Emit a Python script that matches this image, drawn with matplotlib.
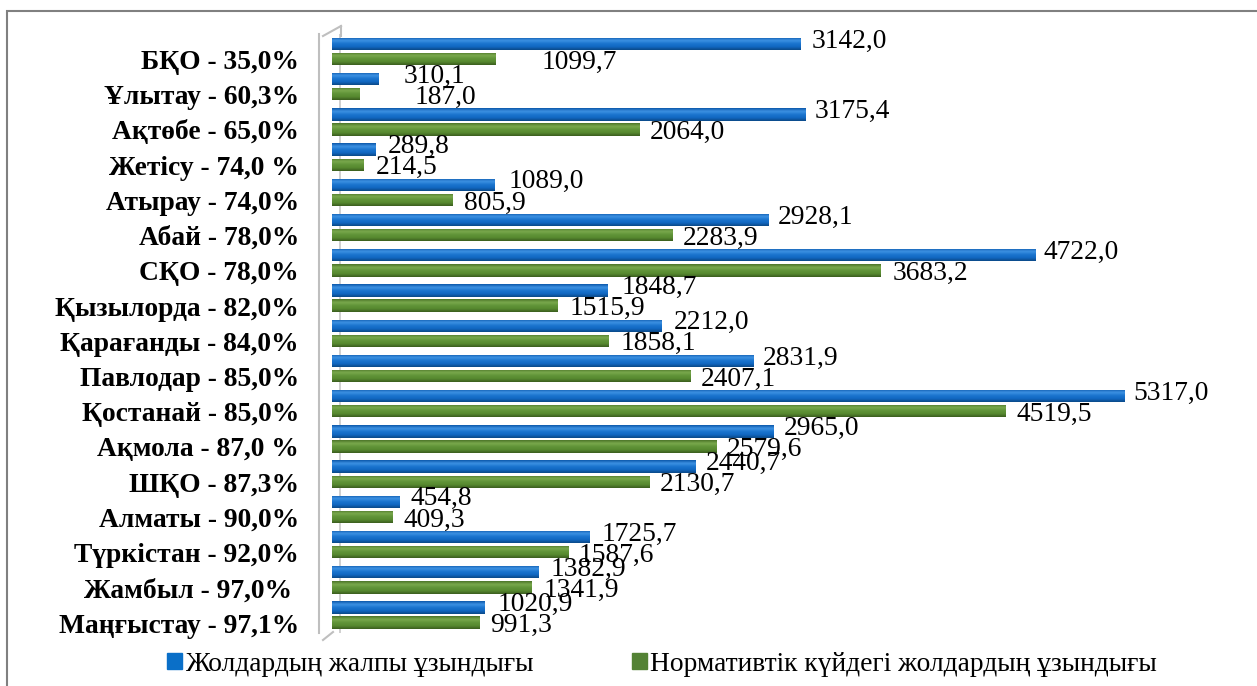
import matplotlib.pyplot as plt
import numpy as np
from matplotlib.colors import LinearSegmentedColormap
from matplotlib.patches import Patch, Rectangle
from matplotlib.lines import Line2D
from matplotlib.transforms import blended_transform_factory, ScaledTranslation

plt.rcParams['font.family'] = ['Liberation Serif', 'DejaVu Serif']

# Өңірлер (нормативтік күйдегі жолдардың үлесі)
regions = ['БҚО - 35,0%', 'Ұлытау - 60,3%', 'Ақтөбе - 65,0%', 'Жетісу - 74,0 %',
           'Атырау - 74,0%', 'Абай - 78,0%', 'СҚО - 78,0%', 'Қызылорда - 82,0%',
           'Қарағанды - 84,0%', 'Павлодар - 85,0%', 'Қостанай - 85,0%',
           'Ақмола - 87,0 %', 'ШҚО - 87,3%', 'Алматы - 90,0%', 'Түркістан - 92,0%',
           'Жамбыл - 97,0% ', 'Маңғыстау - 97,1%']

# Жолдардың жалпы ұзындығы, км
total_len = [3142.0, 310.1, 3175.4, 289.8, 1089.0, 2928.1, 4722.0, 1848.7, 2212.0,
             2831.9, 5317.0, 2965.0, 2440.7, 454.8, 1725.7, 1382.9, 1020.9]
# Нормативтік күйдегі жолдардың ұзындығы, км
norm_len = [1099.7, 187.0, 2064.0, 214.5, 805.9, 2283.9, 3683.2, 1515.9, 1858.1,
            2407.1, 4519.5, 2579.6, 2130.7, 409.3, 1587.6, 1341.9, 991.3]

series_names = ['Жолдардың жалпы ұзындығы', 'Нормативтік күйдегі жолдардың ұзындығы']

# горизонтальные сдвиги подписей (px)
dx_total = [12, 25, 10, 13, 14, 9, 8, 14, 12, 9, 9, 10, 10, 11, 12, 13, 13]
dx_norm = [46, 55, 10, 12, 12, 10, 12, 12, 12, 10, 11, 10, 10, 11, 10, 12, 10]

FS = 19.8

blue = '#1270CC'
green = '#5B8C32'
blue_cmap = LinearSegmentedColormap.from_list(
    'b', ['#0A56A8', '#3E93E4', '#1A74CE', '#1168C2', '#0A4886'])
green_cmap = LinearSegmentedColormap.from_list(
    'g', ['#4A7327', '#7BAA4E', '#609338', '#578A30', '#3A5C1D'])

fig = plt.figure(figsize=(12.57, 6.86), dpi=100)
ax = fig.add_axes([0.2641, 0.0778, 0.7112, 0.8728])

y = np.arange(len(regions))
h = 0.35
off = 0.215


def shaded_bars(ypos, vals, color, cmap):
    bars = ax.barh(ypos, vals, height=h, color=color, zorder=2)
    grad = np.linspace(0, 1, 64).reshape(-1, 1)
    for b in bars:
        x0, y0 = b.get_x(), b.get_y()
        im = ax.imshow(grad, extent=(x0, x0 + b.get_width(), y0, y0 + b.get_height()),
                       origin='lower', cmap=cmap, aspect='auto',
                       interpolation='bicubic', zorder=3)
        im.set_clip_path(b)
    return bars


shaded_bars(y - off, total_len, blue, blue_cmap)
shaded_bars(y + off, norm_len, green, green_cmap)

for i in range(len(regions)):
    ax.annotate(f'{total_len[i]:.1f}'.replace('.', ','), (total_len[i], y[i] - off),
                xytext=(dx_total[i], 3), textcoords='offset pixels',
                ha='left', va='center', fontsize=FS, zorder=5)
    ax.annotate(f'{norm_len[i]:.1f}'.replace('.', ','), (norm_len[i], y[i] + off),
                xytext=(dx_norm[i], -3), textcoords='offset pixels',
                ha='left', va='center', fontsize=FS, zorder=5)

ax.set_xlim(0, 6000)
ax.set_ylim(len(regions) - 0.5, -0.5)
ax.set_xticks([])
ax.set_yticks([])

# подписи категорий слева от стенки
lab_tr = blended_transform_factory(ax.transAxes, ax.transData) + \
    ScaledTranslation(-33 / 100, -8 / 100, fig.dpi_scale_trans)
for i, name in enumerate(regions):
    ax.text(0, y[i], name, transform=lab_tr, ha='right', va='center_baseline',
            fontsize=FS, fontweight='bold')

for s in ['top', 'right', 'bottom']:
    ax.spines[s].set_visible(False)
ax.spines['left'].set_position(('outward', 9))
ax.spines['left'].set_color('#BFBFBF')
ax.spines['left'].set_linewidth(1.5)
# задняя стенка, видна в промежутках между группами
ax.axvline(55, color='#C8C8C8', lw=1.2, zorder=0)

# 3D-углы стенки
px = lambda a, b: (a / 1257, 1 - b / 686)
for (a1, b1), (a2, b2) in [((323, 36), (341, 26)), ((341, 26), (341, 36)),
                           ((323, 640), (333, 632))]:
    p1, p2 = px(a1, b1), px(a2, b2)
    fig.add_artist(Line2D([p1[0], p2[0]], [p1[1], p2[1]], color='#BFBFBF', lw=1.5,
                          transform=fig.transFigure))

handles = [Patch(color='#0A6FC8', label=series_names[0]),
           Patch(color='#548235', label=series_names[1])]
fig.legend(handles=handles, ncol=2, loc='center', bbox_to_anchor=(0.5267, 0.032),
           frameon=False, fontsize=FS, handlelength=0.52, handleheight=0.52,
           handletextpad=0.12, columnspacing=3.6, borderpad=0.2)

fig.add_artist(Rectangle((7 / 1257, -0.05), 1.1, 1 - 11 / 686 + 0.05, fill=False,
                         edgecolor='#808080', lw=1.5, transform=fig.transFigure))

fig.savefig('out.png', dpi=100)
